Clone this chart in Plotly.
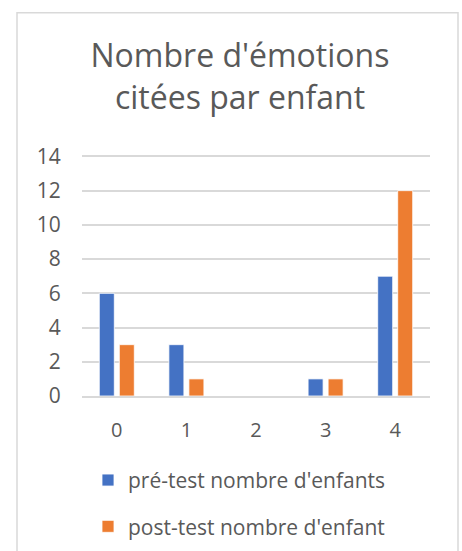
import plotly.graph_objects as go

categories = ["0", "1", "2", "3", "4"]
pre_test = [6, 3, 0, 1, 7]
post_test = [3, 1, 0, 1, 12]
series_names = ["pré-test nombre d'enfants", "post-test nombre d'enfant"]
title_text = "Nombre d'émotions<br>citées par enfant"

W, H = 462, 551
YMAX = 14.2
L, R, B = 82, 32, 155
T = (H - B) - 240 * YMAX / 14
FONT = "Open Sans"
GRAY = "#595959"

fig = go.Figure()
fig.add_trace(go.Bar(x=categories, y=pre_test, name=series_names[0],
                     marker=dict(color="#4472C4", line=dict(color="#ffffff", width=0.8)),
                     legendgroup="a"))
fig.add_trace(go.Bar(x=categories, y=post_test, name=series_names[1],
                     marker=dict(color="#ED7D31", line=dict(color="#ffffff", width=0.8)),
                     legendgroup="b"))

def px_x(p):
    return (p - L) / (W - L - R)

def px_y(p):
    return (H - B - p) / (H - T - B)

fig.add_shape(type="rect", xref="paper", yref="paper",
              x0=px_x(17), x1=px_x(458), y0=px_y(570), y1=px_y(12),
              line=dict(color="#D9D9D9", width=1.5), fillcolor="rgba(0,0,0,0)", layer="below")

fig.update_layout(
    width=W, height=H,
    margin=dict(l=L, r=R, t=T, b=B, autoexpand=False),
    paper_bgcolor="white", plot_bgcolor="white",
    barmode="group", bargap=0.425, bargroupgap=0.25,
    title=dict(text=title_text, xref="container", x=240 / W, xanchor="center",
               yref="container", y=1 - 67 / H, yanchor="middle",
               font=dict(family=FONT, size=32, color=GRAY)),
    font=dict(family=FONT, size=20, color=GRAY),
    showlegend=True,
    legend=dict(orientation="v", x=px_x(88), xanchor="left", y=px_y(460), yanchor="top",
                traceorder="grouped", tracegroupgap=16,
                font=dict(family=FONT, size=21, color=GRAY), bgcolor="rgba(0,0,0,0)"),
    yaxis=dict(range=[0, YMAX], tickvals=[0, 2, 4, 6, 8, 10, 12, 14], showgrid=True,
               gridcolor="#D9D9D9", gridwidth=1.5,
               zeroline=False, showline=False, ticks="outside", ticklen=16,
               tickcolor="rgba(0,0,0,0)", tickfont=dict(size=21, color=GRAY)),
    xaxis=dict(showline=True, linecolor="#D9D9D9", linewidth=1.5, ticks="outside",
               ticklen=15, tickcolor="rgba(0,0,0,0)", tickfont=dict(size=20, color=GRAY)),
)

fig.write_html("out.html", config={"displayModeBar": False},
               post_script="document.body.style.margin='0';document.body.style.overflow='hidden';")
